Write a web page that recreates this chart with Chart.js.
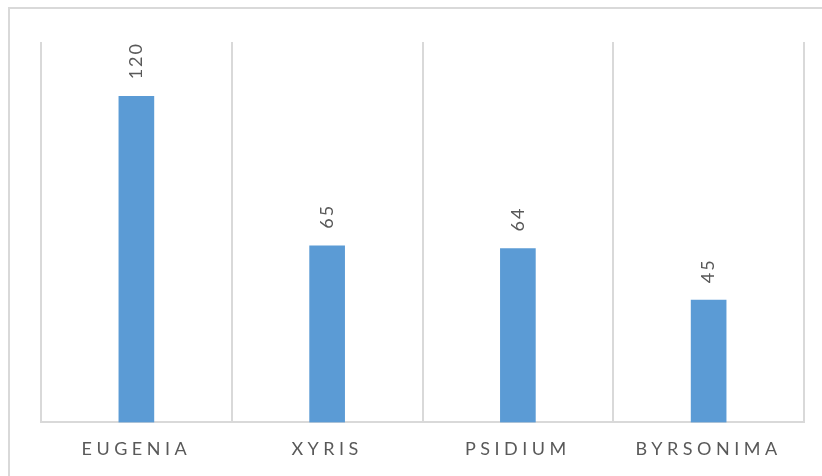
<!DOCTYPE html>
<html lang="en">
<head>
  <meta charset="UTF-8" />
  <title>Genus counts</title>
  <script src="https://cdn.jsdelivr.net/npm/chart.js"></script>
  <style>
    html, body {
      margin: 0;
      padding: 0;
      background: #fff;
      overflow: hidden;
    }
    .frame {
      position: absolute;
      left: 8px;
      top: 7px;
      width: 900px;
      height: 600px;
      border-top: 2px solid #d9d9d9;
      border-left: 2px solid #d9d9d9;
    }
    .wrap {
      position: absolute;
      left: 0;
      top: 0;
      width: 822px;
      height: 476px;
    }
  </style>
</head>
<body>
  <div class="frame"></div>
  <div class="wrap"><canvas id="genusChart"></canvas></div>

  <script>
    // data
    const genera = ['EUGENIA', 'XYRIS', 'PSIDIUM', 'BYRSONIMA'];
    const counts = [120, 65, 64, 45];

    // rotated value labels above each bar
    const valueLabels = {
      id: 'valueLabels',
      afterDatasetsDraw(chart) {
        const ctx = chart.ctx;
        const meta = chart.getDatasetMeta(0);
        ctx.save();
        ctx.fillStyle = '#595959';
        ctx.font = '18px Lato, "Open Sans", sans-serif';
        ctx.letterSpacing = '2px';
        ctx.textAlign = 'left';
        ctx.textBaseline = 'middle';
        meta.data.forEach((bar, i) => {
          ctx.save();
          ctx.translate(bar.x, bar.y - 17);
          ctx.rotate(-Math.PI / 2);
          ctx.fillText(String(counts[i]), 0, 0);
          ctx.restore();
        });
        ctx.restore();
      }
    };

    // spaced-out category labels
    const spacedTicks = {
      id: 'spacedTicks',
      beforeDraw(chart) {
        chart.ctx.letterSpacing = '4.5px';
      },
      beforeDatasetsDraw(chart) {
        chart.ctx.letterSpacing = '0px';
      }
    };

    new Chart(document.getElementById('genusChart'), {
      type: 'bar',
      data: {
        labels: genera,
        datasets: [{
          data: counts,
          backgroundColor: '#5b9bd5',
          barThickness: 35
        }]
      },
      plugins: [spacedTicks, valueLabels],
      options: {
        responsive: true,
        maintainAspectRatio: false,
        animation: false,
        layout: {
          padding: { left: 41, right: 18, top: 42, bottom: 0 }
        },
        plugins: {
          legend: { display: false },
          tooltip: { enabled: false }
        },
        scales: {
          x: {
            grid: {
              offset: true,
              color: '#d9d9d9',
              lineWidth: 2,
              drawTicks: false
            },
            border: { color: '#d9d9d9', width: 2 },
            ticks: {
              color: '#595959',
              padding: 16,
              font: { size: 18, family: 'Lato, "Open Sans", sans-serif' }
            }
          },
          y: {
            display: false,
            min: 0,
            max: 140
          }
        }
      }
    });
  </script>
</body>
</html>
